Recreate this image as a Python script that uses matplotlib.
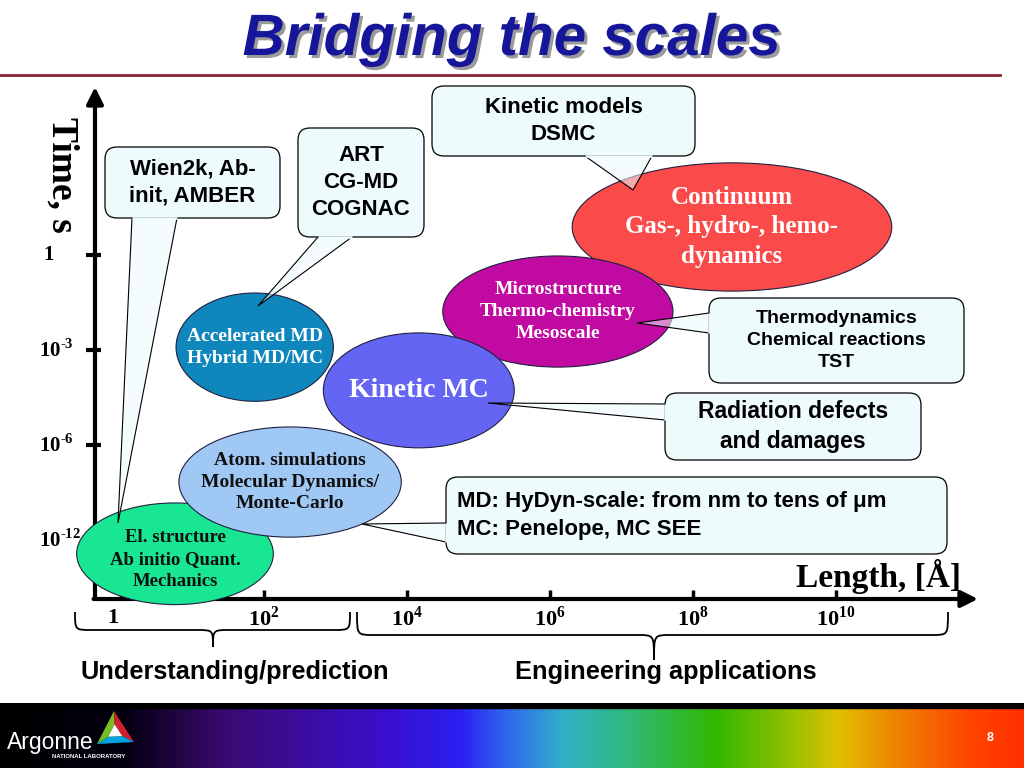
#!/usr/bin/env python3

import matplotlib
matplotlib.use("Agg")
import matplotlib.pyplot as plt
import matplotlib.patheffects as pe
import numpy as np
from matplotlib.colors import LinearSegmentedColormap
from matplotlib.patches import Ellipse, FancyBboxPatch, PathPatch, Polygon
from matplotlib.path import Path
from matplotlib.transforms import Affine2D

plt.rcParams["mathtext.fontset"] = "custom"
plt.rcParams["mathtext.rm"] = "Liberation Serif:bold"
plt.rcParams["mathtext.bf"] = "Liberation Serif:bold"

SERIF = "Liberation Serif"
SANS = "Liberation Sans"

# Length axis, log10 of the length in Angstrom
length_ticks = [0, 2, 4, 6, 8, 10]
length_labels = ["1", r"$10^{2}$", r"$10^{4}$", r"$10^{6}$", r"$10^{8}$", r"$10^{10}$"]

# Time axis: the ticks sit on evenly spaced levels (not linear in log t)
time_levels = [0, 1, 2, 3]
time_labels = [r"$10^{\text{-}12}$", r"$10^{\text{-}6}$", r"$10^{\text{-}3}$", "1"]

# Methods, as regions in (log length, time level), in drawing order
methods = [
    "Continuum\nGas-, hydro-, hemo-\ndynamics",
    "Microstructure\nThermo-chemistry\nMesoscale",
    "Kinetic MC",
    "Accelerated MD\nHybrid MD/MC",
    "El. structure\nAb initio Quant.\nMechanics",
    "Atom. simulations\nMolecular Dynamics/\nMonte-Carlo",
]
length_lo = [6.31, 4.50, 2.83, 0.77, -0.62, 0.81]
length_hi = [10.78, 7.72, 5.50, 2.97, 2.13, 3.92]
time_lo = [2.62, 1.82, 0.97, 1.46, -0.68, 0.03]
time_hi = [3.97, 2.99, 2.18, 2.60, 0.39, 1.19]

method_colors = ["#fa4a4a", "#c10aa1", "#6565f4", "#0f87bc", "#19e693", "#9fc8f5"]
method_text_colors = ["white", "white", "white", "white", "#101010", "#101010"]
method_font = [18, 14, 20, 14, 13.5, 14]
method_text_dy = [0, 0, 0, 0, 6, 0]   # pixels, text shift inside the ellipse

# Codes / topics in the call-out boxes
callout_texts = [
    "Wien2k, Ab-\ninit, AMBER",
    "ART\nCG-MD\nCOGNAC",
    "Kinetic models\nDSMC",
    "Thermodynamics\nChemical reactions\nTST",
    "Radiation defects\nand damages",
    "MD: HyDyn-scale: from nm to tens of \u03bcm\nMC: Penelope, MC SEE",
]

group_labels = ["Understanding/prediction", "Engineering applications"]

# pixel layout of the slide
X0_PX, PX_PER_DEC = 121.0, 71.5   # pixel of length 1 A, pixels per decade
Y0_PX, PX_PER_LVL = 540.0, 95.0   # pixel of 1e-12 s, pixels per level

BOX_FILL = "#eefbfd"
LINESP = 1.38


def dec(px):
    return (px - X0_PX) / PX_PER_DEC


def lvl(py):
    return (Y0_PX - py) / PX_PER_LVL


def draw_callout(ax, pix, box, text, tail, size, left=None):
    x0, y0, x1, y1 = box
    b1, tip, b2 = tail
    ax.add_patch(Polygon([b1, tip, b2], closed=True, transform=pix,
                         fc=BOX_FILL, ec="none", alpha=0.55, zorder=8))
    ax.plot([b1[0], tip[0], b2[0]], [b1[1], tip[1], b2[1]], transform=pix,
            color="black", lw=0.8, zorder=8.5, solid_joinstyle="miter")
    ax.add_patch(FancyBboxPatch((x0, y0), x1 - x0, y1 - y0,
                                boxstyle="round,pad=0,rounding_size=12",
                                transform=pix, fc=BOX_FILL, ec="black",
                                lw=0.9, zorder=9))
    # open the box border where the tail joins
    ax.plot([b1[0], b2[0]], [b1[1], b2[1]], transform=pix, color=BOX_FILL,
            lw=1.8, zorder=9.5, solid_capstyle="butt")
    if left is None:
        ax.text((x0 + x1) / 2, (y0 + y1) / 2, text, transform=pix, ha="center",
                va="center", fontsize=size, fontweight="bold", family=SANS,
                linespacing=LINESP, zorder=10)
    else:
        for i, line in enumerate(text.split("\n")):
            ax.text(left[0], left[1] + i * left[2], line, transform=pix,
                    ha="left", va="center", fontsize=size, fontweight="bold",
                    family=SANS, zorder=10)


def draw_brace(ax, pix, x0, x1, ytop, ybase, xc, ytip, r=16):
    verts = [
        (x0, ytop), (x0, ybase), (x0, ybase), (x0 + r, ybase),
        (xc - r, ybase),
        (xc, ybase), (xc, ybase), (xc, ytip),
        (xc, ybase), (xc, ybase), (xc + r, ybase),
        (x1 - r, ybase),
        (x1, ybase), (x1, ybase), (x1, ytop),
    ]
    codes = [Path.MOVETO, Path.CURVE4, Path.CURVE4, Path.CURVE4,
             Path.LINETO,
             Path.CURVE4, Path.CURVE4, Path.CURVE4,
             Path.CURVE4, Path.CURVE4, Path.CURVE4,
             Path.LINETO,
             Path.CURVE4, Path.CURVE4, Path.CURVE4]
    ax.add_patch(PathPatch(Path(verts, codes), transform=pix, fc="none",
                           ec="black", lw=1.3, zorder=3))


def draw_footer(fig):
    bar = fig.add_axes([0, 0, 1, 65 / 768])
    bar.set_xlim(0, 1024)
    bar.set_ylim(0, 65)
    bar.axis("off")
    stops = [
        (0.00, "#000000"), (0.12, "#040010"), (0.22, "#3a0a72"),
        (0.38, "#3a10d0"), (0.45, "#2a20f0"), (0.49, "#3060f0"),
        (0.55, "#30b0c8"), (0.61, "#30b880"), (0.70, "#30b800"),
        (0.77, "#90c000"), (0.82, "#e0c000"), (0.88, "#f08000"),
        (0.95, "#ff4400"), (1.00, "#ff3000"),
    ]
    cmap = LinearSegmentedColormap.from_list("argonne", stops)
    grad = np.linspace(0, 1, 1024)[None, :]
    bar.imshow(grad, cmap=cmap, extent=(0, 1024, 0, 61), aspect="auto", zorder=1)
    bar.fill_between([0, 1024], 60, 65, color="black", zorder=2)

    # logo triangle
    top, lft, rgt = np.array([114, 57]), np.array([97, 24]), np.array([134, 26])
    cen = (top + lft + rgt) / 3
    it, il, ir = [cen + 0.38 * (p - cen) for p in (top, lft, rgt)]
    bar.add_patch(Polygon([top, lft, il, it], fc="#78be20", ec="none", zorder=3))
    bar.add_patch(Polygon([top, it, ir, rgt], fc="#d0202e", ec="none", zorder=3))
    bar.add_patch(Polygon([lft, rgt, ir, il], fc="#00a3e0", ec="none", zorder=3))
    bar.add_patch(Polygon([it, il, ir], fc="white", ec="none", zorder=3))
    bar.text(7, 19, "Argonne", color="white", fontsize=16.5, family=SANS,
             ha="left", va="baseline", zorder=4)
    bar.text(52, 10, "NATIONAL LABORATORY", color="white", fontsize=4.3,
             family=SANS, fontweight="bold", ha="left", va="baseline", zorder=4)
    bar.text(990, 30, "8", color="white", fontsize=9, family=SANS,
             fontweight="bold", ha="center", va="center", zorder=4)


def main():
    fig = plt.figure(figsize=(10.24, 7.68), dpi=100)
    fig.patch.set_facecolor("white")
    ax = fig.add_axes([0, 0, 1, 1])
    ax.set_xlim(dec(0), dec(1024))
    ax.set_ylim(lvl(768), lvl(0))
    ax.axis("off")

    # pixel coordinates, y pointing down
    pix = Affine2D().scale(1 / 1024, -1 / 768).translate(0, 1) + fig.transFigure

    # title with drop shadow, and rule
    ax.text(512, 40, "Bridging the scales", transform=pix, ha="center", va="center",
            fontsize=42, fontweight="bold", fontstyle="italic", family=SANS,
            color="#16169a", zorder=2,
            path_effects=[pe.SimplePatchShadow(offset=(2.2, -2.2),
                                               shadow_rgbFace="#9a9a9a", alpha=1),
                          pe.Normal()])
    ax.plot([0, 1000], [75, 75], transform=pix, color="#8b2335", lw=2.0)

    # axes with arrows
    y_axis_x = dec(95)
    x_axis_t = lvl(599)
    arrow = dict(arrowstyle="-|>,head_length=0.5,head_width=0.25", lw=3,
                 color="black", mutation_scale=20, shrinkA=0, shrinkB=0)
    ax.annotate("", xy=(y_axis_x, lvl(87)), xytext=(y_axis_x, x_axis_t),
                arrowprops=arrow, zorder=1)
    ax.annotate("", xy=(dec(978), x_axis_t), xytext=(y_axis_x - 0.02, x_axis_t),
                arrowprops=arrow, zorder=1)

    for t, lab in zip(time_levels, time_labels):
        ax.plot([dec(86), dec(101)], [t, t], color="black", lw=3, zorder=1,
                solid_capstyle="butt")
        ax.text(dec(39) + (0.06 if lab == "1" else 0), t, lab, ha="left",
                va="center", fontsize=15, family=SERIF, fontweight="bold",
                zorder=1)
    for d, lab in zip(length_ticks, length_labels):
        ax.plot([d, d], [x_axis_t, lvl(590)], color="black", lw=2.5, zorder=1,
                solid_capstyle="butt")
        ax.text(d - (0.12 if d == 0 else 0), lvl(618), lab, ha="center",
                va="center", fontsize=16, family=SERIF, fontweight="bold", zorder=1)

    ax.text(62, 175, "Time, s", transform=pix, rotation=-90, ha="center",
            va="center", fontsize=27, family=SERIF, fontweight="bold")
    ax.text(878, 576, "Length, [\u00c5]", transform=pix, ha="center", va="center",
            fontsize=24, family=SERIF, fontweight="bold")

    # method regions
    for i, name in enumerate(methods):
        cx = (length_lo[i] + length_hi[i]) / 2
        cy = (time_lo[i] + time_hi[i]) / 2
        ax.add_patch(Ellipse((cx, cy), length_hi[i] - length_lo[i],
                             time_hi[i] - time_lo[i], fc=method_colors[i],
                             ec="#202040", lw=0.8, zorder=2 + i))
        ax.text(cx, cy - method_text_dy[i] / PX_PER_LVL, name, ha="center",
                va="center", fontsize=method_font[i], family=SERIF,
                fontweight="bold", color=method_text_colors[i],
                linespacing=LINESP, zorder=2 + i)

    # call-outs: box (x0, y0, x1, y1), tail (base, tip, base) in pixels
    boxes = [
        (105, 147, 280, 218), (298, 128, 424, 237), (432, 86, 695, 156),
        (709, 298, 964, 383), (665, 393, 921, 460), (446, 477, 947, 554),
    ]
    tails = [
        ((132, 218), (118, 523), (177, 218)),
        ((318, 237), (258, 306), (352, 237)),
        ((585, 156), (633, 190), (652, 156)),
        ((709, 313), (637, 323), (709, 333)),
        ((665, 404), (488, 403), (665, 420)),
        ((446, 523), (362, 524), (446, 542)),
    ]
    sizes = [16, 16, 16, 14, 16.5, 16]
    for i, text in enumerate(callout_texts):
        left = (457, 502, 27) if i == 5 else None
        draw_callout(ax, pix, boxes[i], text, tails[i], sizes[i], left)

    # group braces
    draw_brace(ax, pix, 75, 350, 612, 630, 213, 647)
    draw_brace(ax, pix, 357, 948, 612, 635, 654, 660)
    ax.text(235, 672, group_labels[0], transform=pix, ha="center", va="center",
            fontsize=18.3, family=SANS, fontweight="bold")
    ax.text(666, 672, group_labels[1], transform=pix, ha="center", va="center",
            fontsize=18.3, family=SANS, fontweight="bold")

    draw_footer(fig)
    fig.savefig("out.png", dpi=100)


if __name__ == "__main__":
    main()
